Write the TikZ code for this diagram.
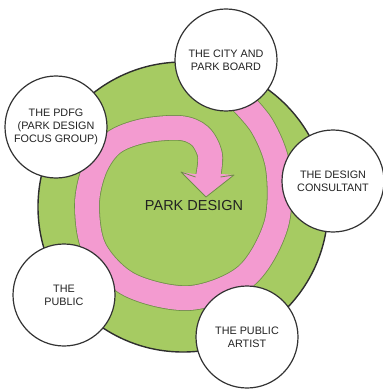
\documentclass[tikz,border=0pt]{standalone}
\usepackage{fontspec}
\setmainfont{Liberation Sans}
\definecolor{parkgreen}{HTML}{A6CB62}
\definecolor{parkpink}{HTML}{F39BD0}
\definecolor{spiraledge}{HTML}{6E8F47}
\definecolor{ringline}{HTML}{2E2E2E}
\definecolor{circleline}{HTML}{333333}
\definecolor{labeltext}{HTML}{222222}

\begin{document}
\begin{tikzpicture}[x=1pt, y=-1pt,
	stakeholder/.style={circle, draw=circleline, line width=1.2pt, fill=white, minimum size=102pt, inner sep=0pt, align=center, text=labeltext, font=\fontsize{10.8}{12.7}\selectfont}]
	\useasboundingbox (0,0) rectangle (382,390);
	\node [circle, draw=ringline, line width=1.4pt, fill=parkgreen, minimum size=290pt] (ring) at (183,207) {};
	% spiral arrow
	\draw [draw=spiraledge, line width=0.8pt, double=parkpink, double distance=24pt] plot [smooth, tension=0.55] coordinates {(236,96) (262,126) (278,168) (276,225) (246,276) (190,298) (130,285) (95,250) (87,205) (95,168) (113,143) (143,131) (180,128) (200,136) (210,155) (208,177)};
	\fill [parkpink] (194,174) -- (181,172) -- (206,197) -- (234,175) -- (222,174) -- cycle;
	\draw [spiraledge, line width=0.8pt, line join=round] (195.5,177) -- (181,172) -- (206,197) -- (234,175) -- (220.5,177);
	\node [text=labeltext, font=\fontsize{14.5}{16}\selectfont] (parkdesign) at (194,206) {PARK DESIGN};
	\foreach \name/\x/\y/\txt in {%
			city/226/60/{THE CITY AND\\PARK BOARD}, pdfg/56/127/{THE PDFG\\(PARK DESIGN\\FOCUS GROUP)}, consultant/333/181/{THE DESIGN\\CONSULTANT}, public/64/295/{THE\\PUBLIC}, artist/247/337/{THE PUBLIC\\ARTIST}%
	}{%
		\node [stakeholder] (\name) at (\x,\y) {\txt};
	}
\end{tikzpicture}
\end{document}
